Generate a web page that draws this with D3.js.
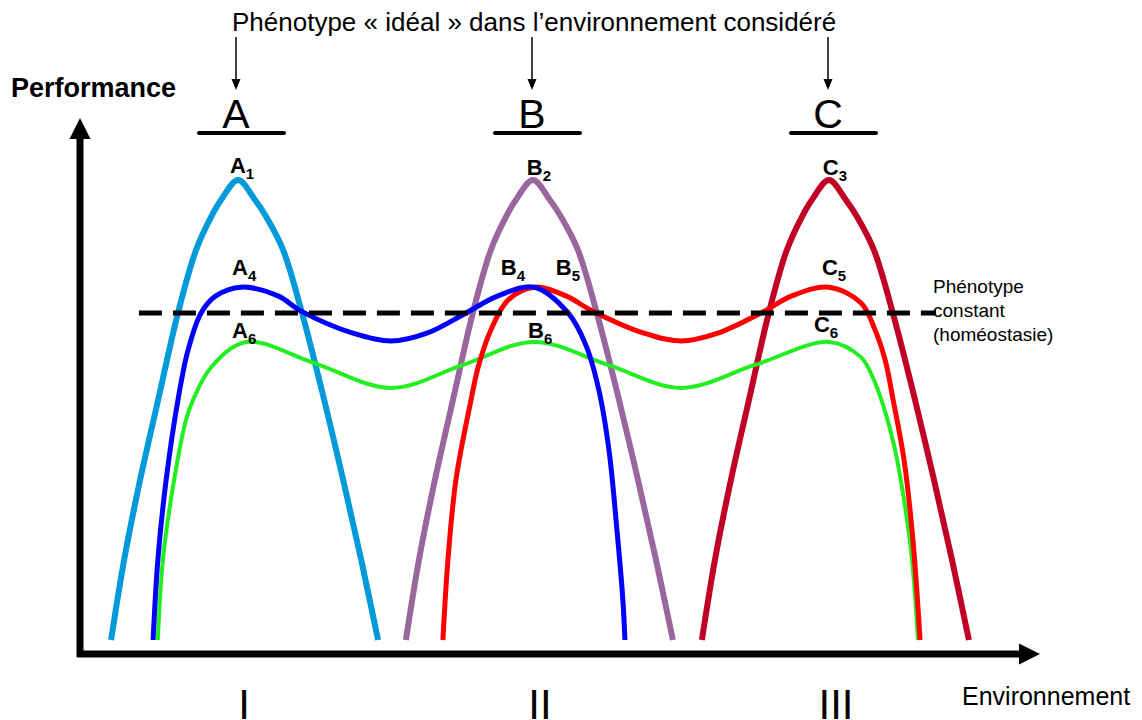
<!DOCTYPE html>
<html>
    <head>
        <meta charset="utf-8">
        <script src="https://d3js.org/d3.v7.min.js"></script>
        <style>
            body { margin: 0; background: #fff; }
            text { font-family: "Liberation Sans", Arial, sans-serif; fill: #000; }
        </style>
    </head>

    <body>
        <div id="target"></div>

        <script>
            // environment positions: I = 1, II = 2, III = 3 ; performance 0..100
            var envTicks = ["I", "II", "III"];
            var idealLetters = ["A", "B", "C"];
            var homeostasis = 71.1;
            var homeostasisRange = [0.672, 3.365];

            // [environment, performance]
            var curveA1 = [[0.578,0],[0.622,17.4],[0.676,34.8],[0.737,52.2],[0.804,71.1],[0.865,84.8],[0.916,92.0],[0.950,95.7],
                           [1.007,100],[1.064,95.7],[1.102,92.0],[1.159,84.8],[1.223,71.1],[1.298,52.2],[1.362,34.8],[1.423,17.4],[1.480,0]];
            var curveB2 = [[1.574,0],[1.618,17.4],[1.672,34.8],[1.733,52.2],[1.800,71.1],[1.861,84.8],[1.912,92.0],[1.946,95.7],
                           [2.003,100],[2.060,95.7],[2.098,92.0],[2.155,84.8],[2.219,71.1],[2.294,52.2],[2.358,34.8],[2.419,17.4],[2.476,0]];
            var curveC3 = [[2.574,0],[2.618,17.4],[2.672,34.8],[2.733,52.2],[2.800,71.1],[2.861,84.8],[2.912,92.0],[2.946,95.7],
                           [3.003,100],[3.060,95.7],[3.098,92.0],[3.155,84.8],[3.219,71.1],[3.294,52.2],[3.358,34.8],[3.419,17.4],[3.476,0]];
            var curveAB4 = [[0.720,0],[0.736,17.4],[0.764,34.8],[0.804,52.2],[0.838,63.0],[0.882,71.1],[0.932,74.8],[1.017,76.7],
                            [1.142,74.8],[1.220,71.5],[1.395,66.7],[1.524,65.0],[1.645,66.7],[1.777,71.1],[1.885,74.8],[2.007,76.7],
                            [2.122,71.1],[2.182,64.1],[2.226,54.3],[2.260,41.3],[2.287,23.9],[2.307,8.7],[2.314,0]];
            var curveBC5 = [[1.699,0],[1.716,17.4],[1.743,34.8],[1.794,52.2],[1.818,59.3],[1.861,67.4],[1.919,73.9],[2.007,76.7],
                            [2.115,74.8],[2.199,71.7],[2.378,66.7],[2.503,65.0],[2.628,66.7],[2.774,71.1],[2.878,74.8],[3.003,76.7],
                            [3.111,73.3],[3.159,67.4],[3.193,60.9],[3.220,52.2],[3.257,39.1],[3.287,21.7],[3.311,0]];
            var curveABC6 = [[0.736,0],[0.753,17.4],[0.791,34.8],[0.831,47.8],[0.855,52.2],[0.916,59.3],[1.034,64.8],[1.264,60.2],
                             [1.524,54.8],[1.767,59.8],[2.007,64.8],[2.257,59.8],[2.503,54.8],[2.753,59.8],[3.003,64.8],[3.111,61.5],
                             [3.152,57.0],[3.186,51.1],[3.223,42.4],[3.257,30.4],[3.284,17.4],[3.304,0]];

            // peak labels: letter, index, environment, performance
            var peakLabels = [["A","1",1.007,101.5],["A","4",1.014,79.3],["A","6",1.014,65.7],
                              ["B","2",2.010,101.1],["B","4",1.922,79.3],["B","5",2.108,79.3],["B","6",2.014,65.7],
                              ["C","3",3.010,101.1],["C","5",3.007,79.3],["C","6",2.980,67.0]];

            var W = 1142, H = 720;
            var graph = d3.select('#target')
                        .append('svg')
                        .attr('width', W)
                        .attr('height', H);

            var x = d3.scaleLinear().domain([1, 3]).range([236, 828]);
            var y = d3.scaleLinear().domain([0, 100]).range([640, 180]);

            var axisX = 80, axisY = 654;

            // arrow head helper
            function arrowHead(tipX, tipY, dir, len, half) {
                var p;
                if (dir == 'up') p = [[tipX, tipY], [tipX - half, tipY + len], [tipX + half, tipY + len]];
                else if (dir == 'right') p = [[tipX, tipY], [tipX - len, tipY - half], [tipX - len, tipY + half]];
                else p = [[tipX, tipY], [tipX - half, tipY - len], [tipX + half, tipY - len]];
                graph.append('polygon').attr('points', p.join(' ')).attr('fill', '#000');
            }

            // axes
            graph.append('line')
                .attr('x1', axisX).attr('y1', axisY + 3)
                .attr('x2', axisX).attr('y2', 136)
                .attr('stroke', '#000').attr('stroke-width', 7);
            arrowHead(axisX, 118, 'up', 21, 10.5);
            graph.append('line')
                .attr('x1', axisX - 3).attr('y1', axisY)
                .attr('x2', 1022).attr('y2', axisY)
                .attr('stroke', '#000').attr('stroke-width', 7);
            arrowHead(1040, axisY, 'right', 21, 10.5);

            graph.append('text').text('Performance')
                .attr('x', 11).attr('y', 97)
                .attr('font-size', 27).attr('font-weight', 'bold');
            graph.append('text').text('Environnement')
                .attr('x', 962).attr('y', 705)
                .attr('font-size', 25);

            graph.selectAll('.tick-label')
                .data(envTicks)
                .enter()
                .append('text')
                .attr('class', 'tick-label')
                .attr('x', function(d, i){ return x(i + 1) + 8; })
                .attr('y', 719)
                .attr('text-anchor', 'middle')
                .attr('font-size', 42)
                .text(function(d){ return d; });

            // title and arrows to ideal phenotypes
            graph.append('text')
                .text('Phénotype « idéal » dans l\u2019environnement considéré')
                .attr('x', 232).attr('y', 31)
                .attr('font-size', 26);

            idealLetters.forEach(function(d, i){
                var cx = x(i + 1);
                graph.append('line')
                    .attr('x1', cx).attr('y1', 37)
                    .attr('x2', cx).attr('y2', 80)
                    .attr('stroke', '#000').attr('stroke-width', 1.5);
                arrowHead(cx, 90, 'down', 11, 4.5);
                graph.append('text').text(d)
                    .attr('x', cx).attr('y', 128)
                    .attr('text-anchor', 'middle')
                    .attr('font-size', 41);
                graph.append('line')
                    .attr('x1', cx - 37).attr('y1', 133)
                    .attr('x2', cx + 48).attr('y2', 133)
                    .attr('stroke', '#000').attr('stroke-width', 4)
                    .attr('stroke-linecap', 'round');
            });

            var line = d3.line()
                .x(function(d){ return x(d[0]); })
                .y(function(d){ return y(d[1]); })
                .curve(d3.curveCatmullRom.alpha(0.5));

            var curves = [
                {data: curveA1, color: '#0099DA', width: 6},
                {data: curveB2, color: '#99669E', width: 6},
                {data: curveC3, color: '#C00024', width: 6},
                {data: curveABC6, color: '#22EE22', width: 4},
                {data: curveBC5, color: '#FF0000', width: 5},
                {data: curveAB4, color: '#0000FF', width: 5}
            ];

            graph.append('g')
                .selectAll('path')
                .data(curves)
                .enter()
                .append('path')
                .attr('d', function(d){ return line(d.data); })
                .attr('fill', 'none')
                .attr('stroke', function(d){ return d.color; })
                .attr('stroke-width', function(d){ return d.width; });

            // constant phenotype (homeostasis)
            graph.append('line')
                .attr('x1', x(homeostasisRange[0])).attr('y1', y(homeostasis))
                .attr('x2', x(homeostasisRange[1])).attr('y2', y(homeostasis))
                .attr('stroke', '#000').attr('stroke-width', 5)
                .attr('stroke-dasharray', '23,11');

            var note = graph.append('text')
                .attr('x', 933).attr('y', 293)
                .attr('font-size', 19);
            ['Phénotype', 'constant', '(homéostasie)'].forEach(function(t, i){
                note.append('tspan').attr('x', 933).attr('dy', i == 0 ? 0 : 24).text(t);
            });

            // peak labels with subscripts
            var lab = graph.selectAll('.peak')
                .data(peakLabels)
                .enter()
                .append('text')
                .attr('class', 'peak')
                .attr('x', function(d){ return x(d[2]) + 4; })
                .attr('y', function(d){ return y(d[3]); })
                .attr('text-anchor', 'middle')
                .attr('font-weight', 'bold')
                .attr('font-size', 22);
            lab.append('tspan').text(function(d){ return d[0]; });
            lab.append('tspan').text(function(d){ return d[1]; })
                .attr('font-size', 15).attr('dy', 6);
        </script>
    </body>
</html>
